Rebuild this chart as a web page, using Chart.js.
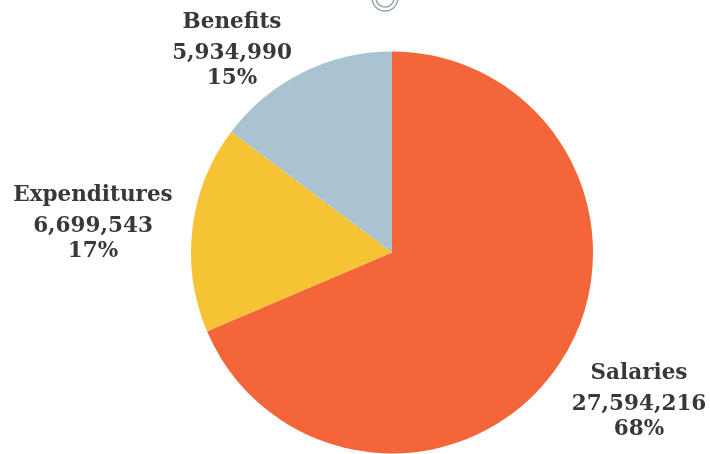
<!DOCTYPE html>
<html>
<head>
<meta charset="utf-8">
<script src="https://cdn.jsdelivr.net/npm/chart.js@4/dist/chart.umd.min.js"></script>
<style>
  html, body { margin: 0; padding: 0; background: #ffffff; }
  #wrap { width: 710px; height: 454px; position: relative; }
</style>
</head>
<body>
<div id="wrap"><canvas id="myChart" width="710" height="454"></canvas></div>
<script>
const categories = ["Salaries", "Expenditures", "Benefits"];
const amounts = [27594216, 6699543, 5934990];
const percentLabels = ["68%", "17%", "15%"];
const sliceColors = ["#f4663a", "#f6c334", "#a9c4d0"];

// where each label block is centred (x, y of the first line)
const labelSpots = [
    { x: 639, y: 373 },
    { x: 93, y: 195 },
    { x: 232, y: 22 }
];

const sliceLabels = {
    id: "sliceLabels",
    afterDraw(chart) {
        const ctx = chart.ctx;
        ctx.save();
        ctx.fillStyle = "#383838";
        ctx.textAlign = "center";
        ctx.textBaseline = "middle";
        categories.forEach((name, i) => {
            const spot = labelSpots[i];
            ctx.font = "bold 21.5px 'DejaVu Serif', serif";
            ctx.fillText(name, spot.x, spot.y);
            ctx.fillText(amounts[i].toLocaleString("en-US"), spot.x, spot.y + 31);
            ctx.fillText(percentLabels[i], spot.x, spot.y + 56);
        });
        // bit of the logo peeking in at the top
        ctx.strokeStyle = "#9aa6ad";
        ctx.lineWidth = 1.5;
        ctx.beginPath();
        ctx.arc(385, -2, 13, 0, Math.PI);
        ctx.stroke();
        ctx.beginPath();
        ctx.arc(385, -2, 9, 0.2, Math.PI - 0.2);
        ctx.stroke();
        ctx.restore();
    }
};

const data = {
    labels: categories,
    datasets: [{
        data: amounts,
        backgroundColor: sliceColors,
        borderWidth: 0
    }]
};

const config = {
    type: "pie",
    data: data,
    options: {
        responsive: false,
        animation: false,
        layout: {
            padding: { left: 191, right: 117, top: 51, bottom: 0 }
        },
        plugins: {
            legend: { display: false },
            tooltip: { enabled: false }
        }
    },
    plugins: [sliceLabels]
};

const myChart = new Chart(document.getElementById("myChart"), config);
</script>
</body>
</html>
